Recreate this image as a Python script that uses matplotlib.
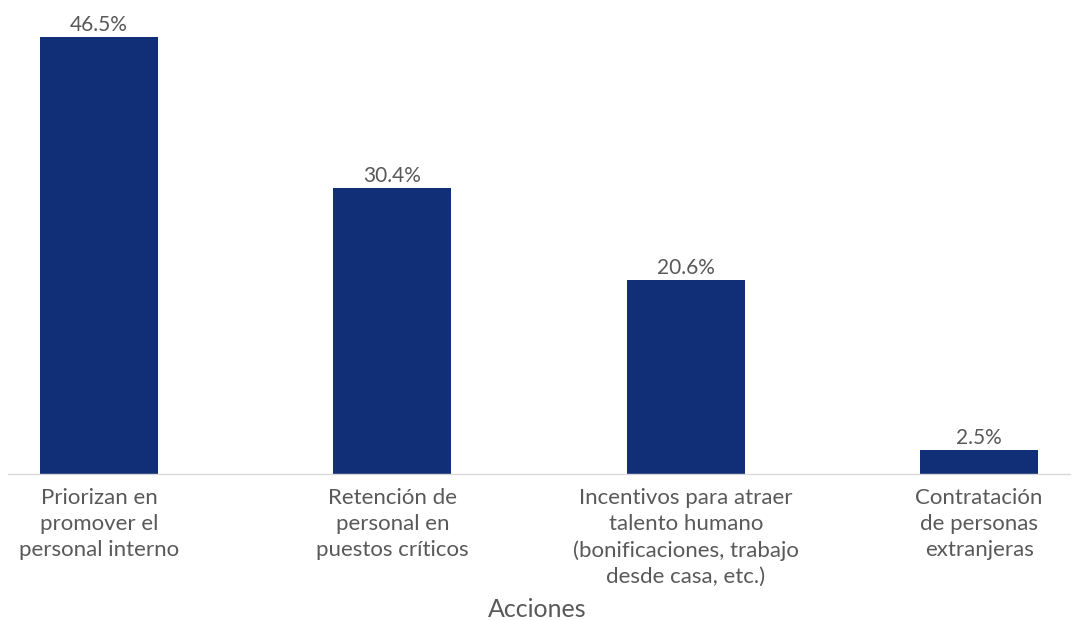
import numpy as np
import matplotlib.pyplot as plt

categorias = ['Priorizan en\npromover el\npersonal interno',
              'Retención de\npersonal en\npuestos críticos',
              'Incentivos para atraer\ntalento humano\n(bonificaciones, trabajo\ndesde casa, etc.)',
              'Contratación\nde personas\nextranjeras']
valores = [46.5, 30.4, 20.6, 2.5]

plt.rcParams['font.family'] = ['Lato', 'DejaVu Sans']
gris = '#595959'

fig = plt.figure(figsize=(10.74, 6.2), dpi=100)
ax = fig.add_axes([0.0074, 0.2355, 0.989, 0.749])

x = np.arange(len(valores))
barras = ax.bar(x, valores, width=0.403, color='#112f77')

# Etiquetas de valor
for xi, v in zip(x, valores):
    ax.text(xi, v + 0.25, f'{v:.1f}%', ha='center', va='bottom', fontsize=15, color=gris)

ax.set_xlim(-0.31, 3.31)
ax.set_ylim(0, 49.4)
ax.set_xticks(x)
ax.set_xticklabels(categorias, fontsize=16, color=gris, linespacing=1.37, va='top')
ax.tick_params(axis='x', length=0, pad=10)
ax.set_yticks([])
for lado in ['top', 'right', 'left']:
    ax.spines[lado].set_visible(False)
ax.spines['bottom'].set_color('#d9d9d9')
ax.spines['bottom'].set_linewidth(1)

fig.text(0.5, 0.017, 'Acciones', ha='center', va='center', fontsize=18, color=gris)

fig.savefig('out.png', dpi=100)
